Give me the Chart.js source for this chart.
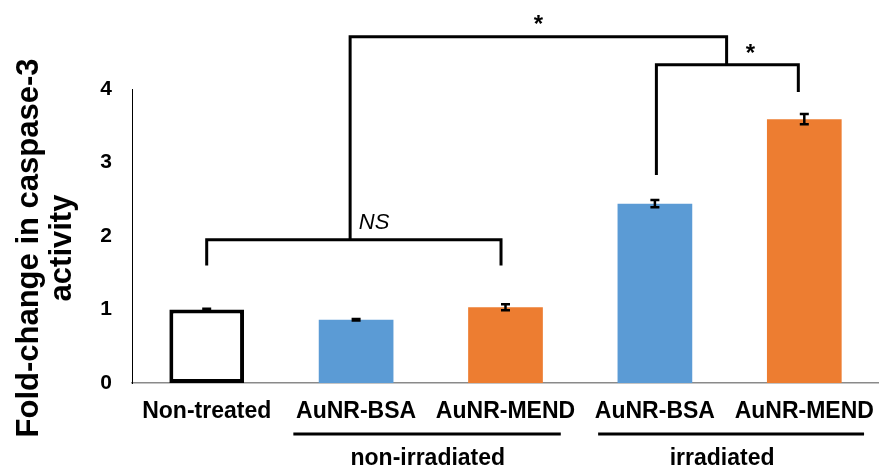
<!DOCTYPE html>
<html>
<head>
<meta charset="utf-8">
<script src="https://cdn.jsdelivr.net/npm/chart.js@4.4.1/dist/chart.umd.min.js"></script>
<style>
  html, body { margin: 0; padding: 0; background: #ffffff; }
  #wrap { width: 879px; height: 468px; }
</style>
</head>
<body>
<div id="wrap"><canvas id="c" width="879" height="468"></canvas></div>
<script>
// Caspase-3 activity, fold-change relative to non-treated cells
const categories = ['Non-treated', 'AuNR-BSA', 'AuNR-MEND', 'AuNR-BSA', 'AuNR-MEND'];
const foldChange = [1.00, 0.86, 1.03, 2.44, 3.59];
const errorValues = [0.01, 0.01, 0.04, 0.05, 0.07];
const barColors = ['#ffffff', '#5b9bd5', '#ed7d31', '#5b9bd5', '#ed7d31'];
const yTickValues = [0, 1, 2, 3, 4];
const groupLabels = ['non-irradiated', 'irradiated'];
const yTitleLines = ['Fold-change in caspase-3', 'activity'];

const FONT = '"Liberation Sans", Arial, sans-serif';

// Error bars, significance brackets, group labels and the y-axis title
const annotations = {
  id: 'annotations',
  afterDatasetsDraw(chart) {
    const ctx = chart.ctx;
    const ys = chart.scales.y;
    const meta = chart.getDatasetMeta(0);
    ctx.save();
    ctx.strokeStyle = '#000000';
    ctx.lineWidth = 2.5;
    ctx.lineCap = 'butt';
    meta.data.forEach((bar, i) => {
      const x = bar.x;
      const yTop = ys.getPixelForValue(foldChange[i] + errorValues[i]);
      const yBot = ys.getPixelForValue(foldChange[i] - errorValues[i]);
      ctx.beginPath();
      ctx.moveTo(x, yTop); ctx.lineTo(x, yBot);
      ctx.moveTo(x - 4.5, yTop); ctx.lineTo(x + 4.5, yTop);
      ctx.moveTo(x - 4.5, yBot); ctx.lineTo(x + 4.5, yBot);
      ctx.stroke();
    });
    ctx.restore();
  },
  afterDraw(chart) {
    const ctx = chart.ctx;
    const xs = chart.scales.x, ys = chart.scales.y;
    const area = chart.chartArea;
    const px = v => xs.getPixelForValue(v);
    const py = v => ys.getPixelForValue(v);

    ctx.save();
    ctx.strokeStyle = '#000000';
    ctx.lineWidth = 3;
    ctx.lineJoin = 'miter';
    ctx.lineCap = 'butt';

    const path = pts => {
      ctx.beginPath();
      pts.forEach(([a, b], k) => {
        if (k === 0) ctx.moveTo(px(a), py(b)); else ctx.lineTo(px(a), py(b));
      });
      ctx.stroke();
    };

    // non-treated vs non-irradiated formulations (NS)
    path([[0, 1.60], [0, 1.95], [1.97, 1.95], [1.97, 1.60]]);
    // stem from the NS bracket up to the top comparison
    path([[0.96, 1.95], [0.96, 4.71], [3.48, 4.71], [3.48, 4.33]]);
    // irradiated AuNR-BSA vs AuNR-MEND
    path([[3.01, 2.83], [3.01, 4.33], [3.96, 4.33], [3.96, 3.96]]);

    ctx.fillStyle = '#000000';
    ctx.textAlign = 'center';
    ctx.textBaseline = 'middle';
    ctx.font = 'bold 24px ' + FONT;
    ctx.fillText('*', px(2.22), py(4.86));
    ctx.fillText('*', px(3.64), py(4.47));
    ctx.font = 'italic 22px ' + FONT;
    ctx.fillText('NS', px(1.12), py(2.18));

    // group underlines and labels below the category axis
    const lineY = area.bottom + 51;
    ctx.beginPath();
    ctx.moveTo(px(0.58), lineY); ctx.lineTo(px(2.37), lineY);
    ctx.moveTo(px(2.62), lineY); ctx.lineTo(px(4.40), lineY);
    ctx.stroke();
    ctx.font = 'bold 23px ' + FONT;
    ctx.textBaseline = 'alphabetic';
    ctx.fillText(groupLabels[0], px(1.48), area.bottom + 82);
    ctx.fillText(groupLabels[1], px(3.45), area.bottom + 82);

    // y-axis title, two centred lines
    ctx.translate(0, 248);
    ctx.rotate(-Math.PI / 2);
    ctx.font = 'bold 31px ' + FONT;
    ctx.textBaseline = 'middle';
    ctx.fillText(yTitleLines[0], 0, 29);
    ctx.fillText(yTitleLines[1], 0, 62);
    ctx.restore();
  }
};

new Chart(document.getElementById('c'), {
  type: 'bar',
  data: {
    labels: categories,
    datasets: [{
      data: foldChange,
      backgroundColor: barColors,
      borderColor: ['#000000', 'rgba(0,0,0,0)', 'rgba(0,0,0,0)', 'rgba(0,0,0,0)', 'rgba(0,0,0,0)'],
      borderWidth: [4, 0, 0, 0, 0],
      borderSkipped: false,
      barPercentage: 0.5,
      categoryPercentage: 1.0
    }]
  },
  options: {
    responsive: false,
    animation: false,
    devicePixelRatio: 1,
    layout: { padding: { top: 89, right: 0, bottom: 0, left: 0 } },
    plugins: {
      legend: { display: false },
      tooltip: { enabled: false },
      title: { display: false }
    },
    scales: {
      x: {
        grid: { display: false, drawTicks: false },
        border: { display: true, color: '#8a8a8a', width: 1.5 },
        ticks: {
          color: '#000000',
          font: { family: FONT, size: 23, weight: 'bold' },
          padding: 15,
          maxRotation: 0,
          minRotation: 0,
          autoSkip: false
        },
        afterFit(scale) {
          scale.height = 85;
          scale.paddingLeft = 0;
          scale.paddingRight = 0;
        }
      },
      y: {
        min: 0,
        max: 4,
        afterBuildTicks(scale) { scale.ticks = yTickValues.map(v => ({ value: v })); },
        grid: { display: false, drawTicks: false },
        border: { display: true, color: '#000000', width: 1 },
        ticks: {
          color: '#000000',
          font: { family: FONT, size: 21, weight: 'bold' },
          padding: 20
        },
        afterFit(scale) {
          scale.width = 132;
          scale.paddingTop = 0;
          scale.paddingBottom = 0;
        }
      }
    }
  },
  plugins: [annotations]
});
</script>
</body>
</html>
